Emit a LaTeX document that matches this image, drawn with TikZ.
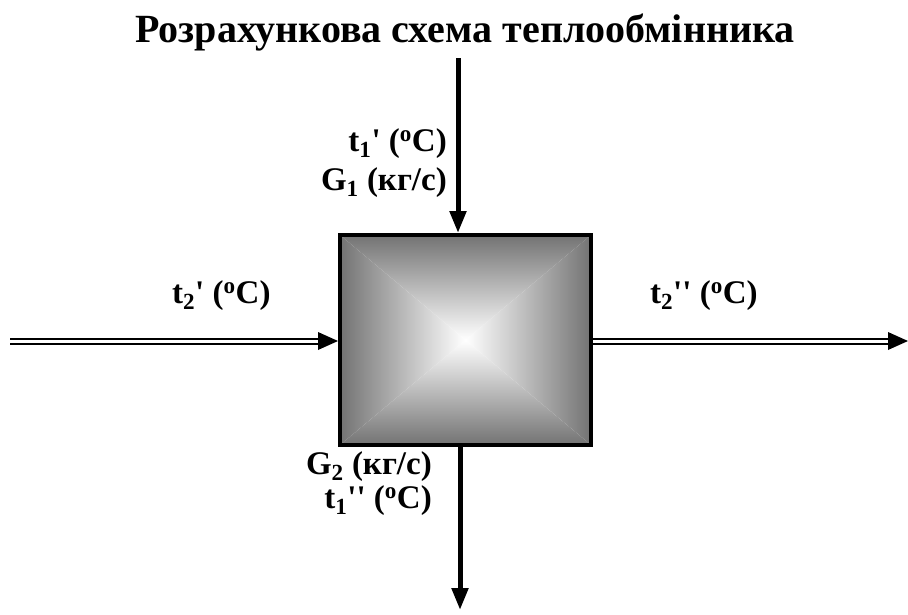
\documentclass[tikz,border=0pt]{standalone}
\usepackage{fontspec}
\setmainfont{Liberation Serif}
\newfontfamily\apfont{Liberation Serif}
\usetikzlibrary{arrows.meta}
\newcommand\ap{{\apfont\bfseries\char"27}}
\newcommand\degsup{\textsuperscript{o}}
\begin{document}
\begin{tikzpicture}[x=1pt,y=-1pt,
  lbl/.style={font=\fontsize{33}{36}\selectfont\bfseries, inner sep=0pt},
  ttl/.style={font=\fontsize{40}{44}\selectfont\bfseries, inner sep=0pt},
  thick arrow/.style={line width=5pt, -{Triangle[length=22pt,width=16pt]}},
  dbl/.style={draw=black, line width=2pt, double=white, double distance=3pt}
]
\useasboundingbox (0,0) rectangle (908,614);
% box shading
\coordinate (c) at (465.5,340);
\shade[top color=black!55, bottom color=white] (340,235) -- (591,235) -- (c) -- cycle;
\shade[bottom color=black!55, top color=white] (340,445) -- (591,445) -- (c) -- cycle;
\shade[left color=black!55, right color=white] (340,235) -- (340,445) -- (c) -- cycle;
\shade[right color=black!55, left color=white] (591,235) -- (591,445) -- (c) -- cycle;
\node[draw=black, line width=4pt, minimum width=251pt, minimum height=210pt, inner sep=0pt] (box) at (465.5,340) {};
% title
\node[ttl, anchor=base] (title) at (465,42) {Розрахункова схема теплообмінника};
% top arrow
\coordinate (topin) at (458,58);
\coordinate (topend) at (458,233);
\draw[thick arrow] (topin) -- (topend);
% bottom arrow
\coordinate (botst) at (460,447);
\coordinate (botend) at (460,610);
\draw[thick arrow] (botst) -- (botend);
% left double arrow
\coordinate (lin) at (10,341);
\coordinate (lend) at (338,341);
\draw[dbl, shorten >=18pt] (lin) -- (lend);
\fill (lend) -- ++(-20,-9) -- ++(0,18) -- cycle;
% right double arrow
\coordinate (rst) at (593,341);
\coordinate (rend) at (908,341);
\draw[dbl, shorten >=18pt] (rst) -- (rend);
\fill (rend) -- ++(-20,-9) -- ++(0,18) -- cycle;
% labels
\node[lbl, anchor=base east] (l1) at (447,151) {t\textsubscript{1}\ap{} (\degsup C)};
\node[lbl, anchor=base east] (l2) at (447,190) {G\textsubscript{1} (кг/с)};
\node[lbl, anchor=base west] (l3) at (172,303) {t\textsubscript{2}\ap{} (\degsup C)};
\node[lbl, anchor=base west] (l4) at (650,303) {t\textsubscript{2}\ap\ap{} (\degsup C)};
\node[lbl, anchor=base east] (l5) at (432,474) {G\textsubscript{2} (кг/с)};
\node[lbl, anchor=base east] (l6) at (432,508) {t\textsubscript{1}\ap\ap{} (\degsup C)};
\end{tikzpicture}
\end{document}
